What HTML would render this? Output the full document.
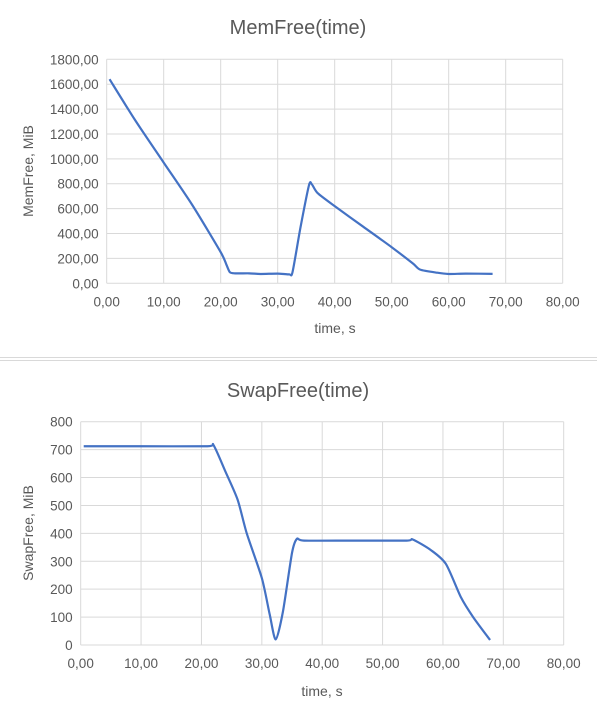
<!DOCTYPE html>
<html><head><meta charset="utf-8"><style>
body{margin:0;background:#fff;width:597px;height:717px;overflow:hidden}
svg{font-family:"Liberation Sans",sans-serif;fill:#595959}
</style></head><body>
<svg id="s" width="597" height="717">
<line x1="0" y1="357.5" x2="597" y2="357.5" stroke="#d9d9d9"/>
<line x1="0" y1="360.5" x2="597" y2="360.5" stroke="#d9d9d9"/>
<text x="298" y="34" font-size="20" text-anchor="middle">MemFree(time)</text>
<text x="335" y="333" font-size="14" text-anchor="middle">time, s</text>
<text transform="translate(33,171) rotate(-90)" font-size="14" text-anchor="middle">MemFree, MiB</text>
<text x="298" y="397" font-size="20" text-anchor="middle">SwapFree(time)</text>
<text x="322" y="696" font-size="14" text-anchor="middle">time, s</text>
<text transform="translate(33,533) rotate(-90)" font-size="14" text-anchor="middle">SwapFree, MiB</text>
</svg>
<script>
const xTicks=[0,10,20,30,40,50,60,70,80];
const memYTicks=[0,200,400,600,800,1000,1200,1400,1600,1800];
const swapYTicks=[0,100,200,300,400,500,600,700,800];
const memTime=[0.5,5,10,15,20,21,21.6,22.5,25,27,30,32,32.6,34,35.5,36,37,40,45,50,53.7,55,58,60,63,67.7];
const memValues=[1640,1310,970,630,250,150,90,80,80,75,78,72,90,450,790,795,725,620,455,290,160,110,85,75,78,76];
const swapTime=[0.5,10,21,22,24,26,27.5,30,31.3,32.3,33.5,35,35.8,37,45,54,55,58,60.5,63,65,67.8];
const swapValues=[712,712,712,716,620,520,400,240,110,20,120,330,380,374,374,374,378,340,290,170,100,18];
const svg=document.getElementById('s');const NS='http://www.w3.org/2000/svg';
function mk(t,a){const e=document.createElementNS(NS,t);for(const k in a)e.setAttribute(k,a[k]);svg.appendChild(e);return e;}
function chart(p,yTicks,yMax,fmtY,xs,ys,name){
 const sx=v=>p.l+(v/80)*(p.r-p.l), sy=v=>p.b-(v/yMax)*(p.b-p.t);
 xTicks.forEach(v=>{const l=mk('line',{x1:sx(v),x2:sx(v),y1:p.t,y2:p.b,stroke:'#d9d9d9'});
  
  
  const t=mk('text',{x:sx(v),y:p.b+23,'font-size':13.5,'text-anchor':'middle'});t.textContent=v.toFixed(2).replace('.',',');
  
  });
 yTicks.forEach(v=>{const l=mk('line',{x1:p.l,x2:p.r,y1:sy(v),y2:sy(v),stroke:'#d9d9d9'});
  
  
  const t=mk('text',{x:p.l-8,y:sy(v)+5,'font-size':13.5,'text-anchor':'end'});t.textContent=fmtY(v);
  
  });
 const pts=xs.map((x,i)=>[sx(x),sy(ys[i])]);
 let d='M'+pts[0];
 for(let i=0;i<pts.length-1;i++){const p0=pts[Math.max(0,i-1)],p1=pts[i],p2=pts[i+1],p3=pts[Math.min(pts.length-1,i+2)];
  const c1=[p1[0]+(p2[0]-p0[0])/8,p1[1]+(p2[1]-p0[1])/8],c2=[p2[0]-(p3[0]-p1[0])/8,p2[1]-(p3[1]-p1[1])/8];
  d+=' C'+c1+' '+c2+' '+p2;}
 const path=mk('path',{d:d,fill:'none',stroke:'#4472c4','stroke-width':2.2,'stroke-linejoin':'round'});
 
 
}
chart({l:106.7,r:562.7,t:59.3,b:283.3},memYTicks,1800,v=>v.toFixed(2).replace('.',','),memTime,memValues,'memfree');
chart({l:80.7,r:563.7,t:421.7,b:645},swapYTicks,800,v=>String(v),swapTime,swapValues,'swapfree');
</script>
</body></html>
